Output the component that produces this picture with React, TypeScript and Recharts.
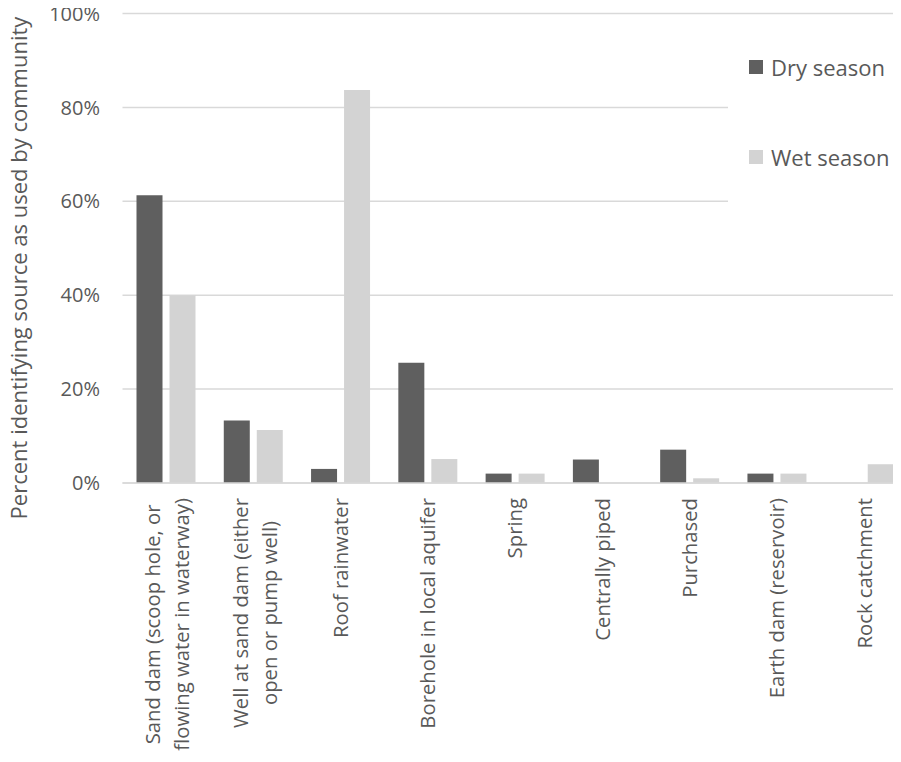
import React from 'react';
import { BarChart, Bar, XAxis, YAxis, CartesianGrid, Legend } from 'recharts';

const categories: string[] = [
  'Sand dam (scoop hole, or\nflowing water in waterway)',
  'Well at sand dam (either\nopen or pump well)',
  'Roof rainwater',
  'Borehole in local aquifer',
  'Spring',
  'Centrally piped',
  'Purchased',
  'Earth dam (reservoir)',
  'Rock catchment',
];
const drySeason: number[] = [61.3, 13.3, 3.0, 25.6, 2, 5, 7.1, 2, 0];
const wetSeason: number[] = [40, 11.3, 83.7, 5.1, 2, 0, 1, 2, 4];
const yTicks: number[] = [0, 20, 40, 60, 80, 100];
const seriesNames = { dry: 'Dry season', wet: 'Wet season' };
const yLabel = 'Percent identifying source as used by community';

const data = categories.map((name, i) => ({ name, dry: drySeason[i], wet: wetSeason[i] }));

const FONT = '"Open Sans", sans-serif';
const TEXT = '#595959';
const DARK = '#5f5f5f';
const LIGHT = '#d3d3d3';
const GRID = '#d9d9d9';
const XFS = 20.3;

let ctx: CanvasRenderingContext2D | null = null;
function measure(t: string, size: number): number {
  if (!ctx) {
    const c = document.createElement('canvas');
    ctx = c.getContext('2d');
  }
  if (!ctx) return t.length * size * 0.5;
  ctx.font = `${size}px "Open Sans"`;
  return ctx.measureText(t).width;
}

const XTick = (props: any) => {
  const { x, y, payload } = props;
  const lines: string[] = String(payload.value).split('\n');
  const maxW = Math.max(...lines.map((l) => measure(l, XFS)));
  const n = lines.length;
  return (
    <g transform={`translate(${x},${y})`}>
      {lines.map((l, i) => (
        <text
          key={i}
          transform="rotate(-90)"
          x={-maxW / 2}
          y={(i - (n - 1) / 2) * 29 + (n > 1 ? 1.5 : 0)}
          dy="0.355em"
          textAnchor="middle"
          fill={TEXT}
          fontSize={XFS}
          fontFamily={FONT}
        >
          {l}
        </text>
      ))}
    </g>
  );
};

const YLabel = () => {
  const cx = 26.5;
  const cy = 268;
  return (
    <text
      x={cx}
      y={cy}
      transform={`rotate(-90, ${cx}, ${cy})`}
      textAnchor="middle"
      fill={TEXT}
      fontSize={22}
      fontFamily={FONT}
    >
      {yLabel}
    </text>
  );
};

const LegendContent = () => {
  const items = [
    { label: seriesNames.dry, color: DARK },
    { label: seriesNames.wet, color: LIGHT },
  ];
  return (
    <div style={{ width: 173, height: 190, background: '#fff', position: 'relative' }}>
      {items.map((it, i) => (
        <div
          key={i}
          style={{
            position: 'absolute',
            left: 21,
            top: 37 + i * 90 - 15,
            height: 30,
            display: 'flex',
            alignItems: 'center',
            whiteSpace: 'nowrap',
          }}
        >
          <span style={{ display: 'inline-block', width: 14, height: 14, background: it.color, marginRight: 8 }} />
          <span style={{ fontFamily: FONT, fontSize: 22, color: TEXT, lineHeight: '30px' }}>{it.label}</span>
        </div>
      ))}
    </div>
  );
};

export default function App() {
  return (
    <div
      style={{
        marginLeft: -8,
        marginTop: -8,
        width: 901,
        height: 754,
        overflow: 'hidden',
        position: 'relative',
        background: '#fff',
      }}
    >
      <BarChart
        width={901}
        height={754}
        data={data}
        margin={{ top: 13.5, right: 0, left: 0, bottom: 0 }}
        barGap={7}
        barSize={26}
      >
        <CartesianGrid vertical={false} stroke={GRID} strokeWidth={1.5} />
        <XAxis
          dataKey="name"
          height={271}
          interval={0}
          padding={{ left: 0, right: -7 }}
          axisLine={{ stroke: GRID, strokeWidth: 1.5 }}
          tickLine={false}
          tickSize={0}
          tickMargin={15}
          tick={<XTick />}
        />
        <YAxis
          width={122.5}
          domain={[0, 100]}
          ticks={yTicks}
          tickFormatter={(v: number) => `${v}%`}
          axisLine={false}
          tickLine={false}
          tickSize={0}
          tickMargin={22.5}
          tick={{ fill: TEXT, fontSize: 20, fontFamily: FONT }}
          label={<YLabel />}
        />
        <Legend
          layout="vertical"
          align="center"
          verticalAlign="middle"
          content={<LegendContent />}
          wrapperStyle={{ position: 'absolute', left: 728, top: 30, width: 173, height: 190 }}
        />
        <Bar dataKey="dry" name={seriesNames.dry} fill={DARK} isAnimationActive={false} />
        <Bar dataKey="wet" name={seriesNames.wet} fill={LIGHT} isAnimationActive={false} />
      </BarChart>
    </div>
  );
}
